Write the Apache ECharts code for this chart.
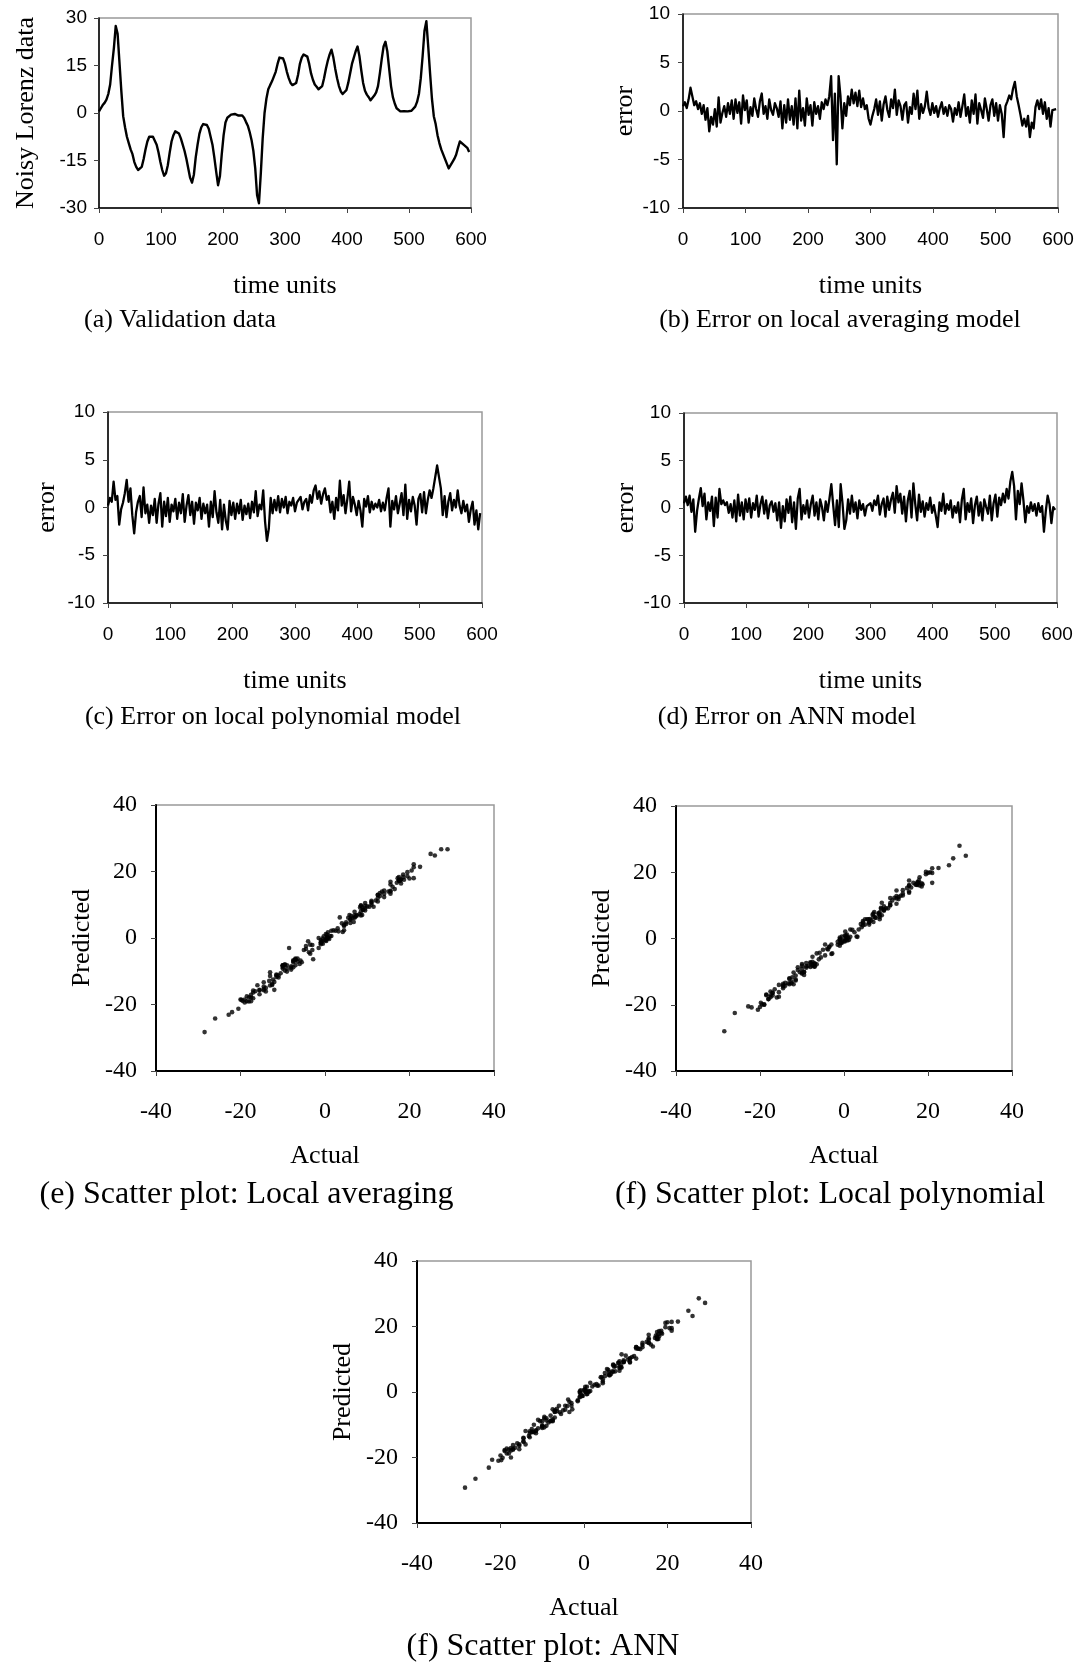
<!DOCTYPE html>
<html>
<head>
<meta charset="utf-8">
<script src="https://cdn.jsdelivr.net/npm/echarts@6/dist/echarts.min.js"></script>
<style>
html,body{margin:0;padding:0;background:#fff;}
#chart{width:1084px;height:1663px;}
</style>
</head>
<body>
<div id="chart"></div>
<script>
// Sample spacing (time units) of the read-off values
const timeStep = 3;

// (a) Noisy Lorenz validation data, read every 3 time units
const validation = [
  0.5, 1.5, 2.5, 3.2, 4.2, 6, 9, 15, 20.5, 27.5,
  25, 16, 7, -1, -4.5, -7.5, -9.5, -11.5, -13, -15.5,
  -17, -18, -18.5, -17, -14.5, -11.5, -9, -7.5, -7, -7.5,
  -8, -10, -12.5, -15.5, -18, -19.8, -19, -16.5, -12.5, -9,
  -7, -5.8, -5.5, -6.5, -8, -10, -12, -14.5, -17.5, -20.5,
  -22, -19.5, -14, -10, -6.5, -4.5, -3.5, -3, -3.8, -5,
  -7.5, -10, -14, -18.5, -22.8, -20, -13, -7, -3, -1.5,
  -1, -0.5, -1, -0.3, 0.2, -0.8, -0.5, -0.8, -1.5, -2.8,
  -4, -6, -8.5, -12, -17.5, -26, -28.5, -19, -8, 0,
  4.5, 7.5, 8.8, 10, 11.5, 13, 15.5, 17.5, 17.8, 17.2,
  15.5, 13, 11, 9.5, 8.8, 8.2, 9.5, 12, 15.5, 17.5,
  18.5, 18.7, 17.8, 15.5, 12.5, 10.5, 9, 8.3, 7.5, 7,
  8.5, 11, 14, 16.5, 18.5, 20, 17.5, 14, 11, 8.5,
  6.8, 6, 6.2, 7.2, 9.5, 12.5, 15.5, 17.5, 19.5, 21,
  18, 13.5, 9.5, 7, 5.8, 5, 4, 4.5, 5.5, 6.5,
  8.5, 12.5, 17, 21, 22.5, 19.5, 14, 8.5, 5, 3,
  1.5, 1, 0.5, 0.2, 0.6, 0.3, 0.5, 0.8, 0.7, 1.2,
  2, 3.5, 6, 11, 18, 26, 29, 21, 12.5, 4.5,
  -1, -3.5, -7, -9.5, -11.5, -13, -14.5, -16, -17.5, -17,
  -15.5, -14.5, -13.2, -11, -9, -9.5, -10, -10.5, -11, -12.3
];

// (b) Error on local averaging model
const errLocalAvg = [
  0.5, 0.9, 0.3, 1.2, 2.4, 1.5, 0.6, 1.0, 0.2, 0.8,
  -0.3, 0.6, -0.9, 0.3, -2.1, -0.6, -1.4, 0.2, -1.6, 1.4,
  -1.2, -0.2, 0.5, -0.6, 0.8, -0.3, 1.1, -0.8, 1.2, -0.2,
  0.9, -1.3, 1.6, 0.1, 1.1, -1.2, 0.4, -0.5, 1.3, 0.2,
  -0.6, 1.0, 1.8, -0.3, 0.5, -0.8, 1.2, 0.1, -0.4, 0.8,
  0.3, -0.6, 1.0, -1.8, 0.6, -1.2, 1.2, -0.9, 0.5, -1.4,
  1.3, -1.8, 2.1, -1.0, 0.3, -1.5, 1.3, -0.4, 0.6, -1.5,
  0.9, -0.3, 0.5, -0.8, 0.9, 0.2, 1.2, 0.6, 1.5, 3.6,
  -3.0, 1.8, -5.5, 3.6, 1.5, -1.8, 0.8, -0.5, 1.5, 0.6,
  2.2, 0.8, 1.9, 0.5, 2.1, 0.4, 1.3, 0.2, 0.6, -0.8,
  -1.4, -0.5, 0.2, 1.2, -0.4, 1.0, -1.0, 0.7, 1.5, 0.1,
  -0.6, 1.2, 0.3, 2.2, -0.4, 1.1, 0.5, -0.9, 0.6, 0.9,
  -1.2, 0.4, -0.3, 1.8, 0.2, 2.1, -0.8, 0.7, -0.2, 0.5,
  2.0, 0.3, -0.4, 0.8, -0.2, 0.5, -0.6, 0.3, 0.9, -0.3,
  0.4, -0.5, 0.6, 0.2, -1.1, 0.3, -0.4, 0.9, -0.6, 0.5,
  1.7, -0.5, 0.4, -1.2, 1.1, -0.3, 1.7, -1.3, 0.8, 0.1,
  -0.7, 1.3, 0.2, -1.0, 0.6, 1.2, -0.5, 0.8, -1.0, 0.6,
  -0.3, -2.7, 0.5, 1.0, 1.6, 1.2, 2.3, 3.0, 1.5, 0.6,
  -0.4, -1.5, -0.8, -1.6, -0.5, -2.7, -1.2, -1.8, 0.4, 1.1,
  0.2, 1.2, -0.3, 0.9, -0.8, 0.3, -1.6, 0.1, 0.3, 0.2
];

// (c) Error on local polynomial model
const errLocalPoly = [
  0.2, 1.0, 0.6, 2.7, 0.8, 1.2, -1.8, -0.2, 0.5, 1.5,
  2.9, 0.6, 2.0, -0.8, -2.7, -0.5, 0.6, 1.2, -1.0, 2.1,
  -0.6, 0.3, -1.6, 0.2, -0.8, 0.9, -1.6, 0.4, 1.5, -2.0,
  0.6, -0.9, 1.0, -1.5, 0.3, -0.4, 0.9, -1.2, 0.5, -0.6,
  1.4, -1.5, 0.2, 1.3, -0.8, 0.6, -1.7, 0.5, -0.3, 1.0,
  -1.2, 0.4, -0.6, 0.3, -2.0, 0.6, -1.0, 1.7, -0.5, -1.6,
  0.8, -2.3, 0.3, -1.4, -2.3, 0.7, -0.8, 0.5, -1.2, 0.4,
  -0.6, 0.8, -1.3, 0.2, -0.7, 0.4, -1.1, 0.6, -0.5, 1.7,
  -0.9, 0.3, -0.2, 1.8, -1.5, -3.5, -2.2, 1.0, -0.6, 0.8,
  -0.3, 1.2, -0.5, 0.9, 0.0, 1.1, -0.6, 0.6, 0.2, 1.0,
  -0.4, 0.5, 0.3, 1.1, -0.2, 0.6, 0.9, -0.3, 1.3, 0.5,
  1.8, 2.3, 0.9, 1.7, 0.4, 1.4, 2.0, 0.8, 1.2, -0.5,
  0.6, -1.2, 1.0, -0.3, 2.8, 0.2, 1.3, -0.6, 0.9, 2.7,
  -0.4, 1.1, 0.3, -0.8, 0.7, -0.3, -2.0, 0.9, 0.1, 1.2,
  -0.5, 0.6, -0.2, 0.4, 0.0, 0.8, -0.4, 0.5, -0.3, 1.0,
  2.0, -2.0, 0.7, -0.2, 1.2, -0.6, 0.4, 1.5, -0.8, 2.4,
  -1.2, 0.8, -0.4, 1.1, 0.2, -1.8, 0.9, 1.4, -0.5, 1.6,
  -0.6, 0.8, 1.8, 1.0, 2.0, 1.8, 4.4, 4.2, 2.0, -0.8,
  1.2, -1.0, 0.6, 1.5, -0.3, 0.8, 0.0, 1.8, 0.2, -0.6,
  0.7, -0.4, 0.3, -1.5, -0.2, 0.6, -1.8, -0.3, -2.3, -0.6
];

// (d) Error on ANN model
const errANN = [
  0.5, 1.2, 0.3, 1.3, -0.4, 0.9, -2.5, -0.3, 1.0, 2.1,
  0.2, 1.5, -1.2, 0.6, -0.3, 1.2, -1.9, 1.1, -1.0, 2.0,
  0.4, 0.8, 0.3, 0.6, -0.5, 0.4, -1.0, 0.8, -1.4, 1.4,
  -0.8, 0.6, -1.2, 0.9, -0.4, 1.0, -1.0, 0.5, -0.2, 1.3,
  -0.9, 0.4, 1.2, -0.6, 0.8, -1.1, 0.3, 0.7, -0.4, 0.5,
  -1.3, 0.6, -2.1, 0.2, -1.4, 0.9, -0.5, 1.2, -1.5, 0.6,
  -2.2, 1.0, 2.0, -1.2, 0.3, -0.6, 0.8, -1.0, 0.4, 1.3,
  -0.8, 0.6, -1.2, 0.9, 0.1, -1.3, 0.7, -0.4, 1.0, 2.5,
  0.3, -1.8, 0.8, -2.0, 2.5, 0.5, -2.2, -1.3, 0.9, -0.6,
  1.3, -0.4, 0.6, -1.1, 0.8, -0.2, 0.4, -0.8, 0.2, 0.0,
  0.5, -0.3, 0.8, 0.3, 1.3, -0.7, 0.4, 1.0, -0.9, 1.2,
  -0.2, 0.9, 1.6, -0.5, 2.3, 0.6, 1.5, -0.6, 1.2, -1.4,
  0.8, 1.8, -1.0, 2.6, 0.4, -1.3, 1.4, -0.4, 0.7, -0.9,
  0.5, -0.2, 1.1, -0.5, 0.3, -0.8, -2.0, 0.6, -0.3, 1.5,
  -0.6, 0.4, -0.2, 0.8, -1.0, 0.2, -0.5, 0.6, -1.5, 0.9,
  2.0, -1.2, 0.5, -0.4, 1.0, -1.6, 0.3, 1.2, -0.8, 0.6,
  -1.3, 0.9, 0.1, -0.6, 1.3, -1.3, 0.5, 1.4, -0.9, 1.1,
  0.3, 1.5, 0.6, 2.0, 1.0, 2.8, 3.8, 2.3, -1.2, 1.8,
  0.4, 2.6, 0.8, -1.5, 0.2, -0.5, 0.6, -0.3, 0.4, -0.8,
  0.5, -0.4, 0.2, -2.5, -0.3, 1.3, 0.4, -1.6, 0.1, -0.2
];

// (e) Predicted values, local averaging model (paired with validation as actual)
const predLocalAvg = [
  0.0, 0.6, 2.2, 2.0, 1.8, 4.5, 8.4, 14.0, 20.3, 26.7,
  25.3, 15.4, 7.9, -1.3, -2.4, -6.9, -8.1, -11.7, -11.4, -16.9,
  -15.8, -17.8, -19.0, -16.4, -15.3, -11.2, -10.1, -6.7, -8.2, -7.3,
  -8.9, -8.7, -14.1, -15.6, -19.1, -18.6, -19.4, -16.0, -13.8, -9.2,
  -6.4, -6.8, -7.3, -6.2, -8.5, -9.2, -13.2, -14.6, -17.1, -21.3,
  -22.3, -18.9, -15.0, -8.2, -7.1, -3.3, -4.7, -2.1, -4.3, -3.6,
  -8.8, -8.2, -16.1, -17.5, -23.1, -18.5, -14.3, -6.6, -3.6, 0.0,
  -1.9, -0.2, -1.5, 0.5, -0.7, -1.0, -1.7, -1.4, -3.0, -6.4,
  -1.0, -7.8, -3.0, -15.6, -19.0, -24.2, -28.3, -18.5, -9.5, -0.6,
  2.3, 6.7, 6.9, 9.5, 9.4, 12.6, 14.2, 17.3, 17.2, 18.0,
  16.9, 13.5, 10.8, 8.3, 9.2, 7.2, 10.5, 11.3, 14.0, 17.4,
  19.1, 17.5, 17.5, 13.3, 12.9, 9.4, 8.5, 9.2, 6.9, 6.1,
  9.7, 10.6, 14.3, 14.7, 18.3, 17.9, 18.3, 13.3, 11.2, 8.0,
  4.8, 5.7, 6.6, 6.4, 9.7, 12.0, 16.1, 17.2, 18.6, 21.3,
  17.6, 14.0, 8.9, 6.8, 6.9, 4.7, 4.4, 3.6, 6.1, 6.0,
  6.8, 13.0, 16.6, 22.2, 21.4, 19.8, 12.3, 9.8, 4.2, 2.9,
  2.2, -0.3, 0.3, 1.2, 0.0, -0.9, 1.0, 0.0, 1.7, 0.6,
  2.3, 6.2, 5.5, 10.0, 16.4, 24.8, 26.7, 18.0, 11.0, 3.9,
  -0.6, -2.0, -6.2, -7.9, -11.0, -10.3, -13.3, -14.2, -17.9, -18.1,
  -15.7, -15.7, -12.9, -11.9, -8.2, -9.8, -8.4, -10.6, -11.3, -12.5
];

// (f) Predicted values, local polynomial model
const predLocalPoly = [
  0.3, 0.5, 1.9, 0.5, 3.4, 4.8, 10.8, 15.2, 20.0, 28.0,
  22.1, 15.4, 5.0, -0.2, -1.8, -7.0, -10.1, -12.7, -12.0, -17.6,
  -16.4, -18.3, -16.9, -17.2, -13.7, -12.4, -7.4, -7.9, -8.5, -5.5,
  -8.6, -9.1, -13.5, -14.0, -18.3, -19.4, -19.9, -15.3, -13.0, -8.4,
  -8.4, -4.3, -5.7, -7.8, -7.2, -10.6, -10.3, -15.0, -17.2, -21.5,
  -20.8, -19.9, -13.4, -10.3, -4.5, -5.1, -2.5, -4.7, -3.3, -3.4,
  -8.3, -7.7, -14.3, -17.1, -20.5, -20.7, -12.2, -7.5, -1.8, -1.9,
  -0.4, -1.3, 0.3, -0.5, 0.9, -1.2, 0.6, -1.4, -1.0, -4.5,
  -3.1, -6.3, -8.3, -13.8, -16.0, -22.5, -28.0, -20.0, -7.4, -0.8,
  4.8, 6.3, 9.3, 9.1, 11.5, 11.9, 16.1, 16.9, 17.6, 16.2,
  15.9, 12.5, 10.7, 8.4, 9.0, 7.6, 8.6, 12.3, 14.2, 17.0,
  16.7, 16.4, 16.9, 13.8, 12.1, 9.1, 7.0, 7.5, 6.3, 7.5,
  7.9, 12.2, 13.0, 16.8, 15.7, 19.8, 16.2, 14.6, 10.1, 5.8,
  7.2, 4.9, 5.9, 8.0, 8.8, 12.8, 17.5, 16.6, 19.4, 19.8,
  18.5, 12.9, 9.7, 6.6, 5.8, 4.2, 4.4, 4.0, 5.8, 5.5,
  6.5, 14.5, 16.3, 21.2, 21.3, 20.1, 13.6, 7.0, 5.8, 0.6,
  2.7, 0.2, 0.9, -0.9, 0.4, 2.1, -0.4, -0.6, 1.2, -0.4,
  2.6, 2.7, 4.2, 10.0, 16.0, 24.2, 25.0, 16.8, 10.5, 5.3,
  -2.2, -2.5, -7.6, -11.0, -11.2, -13.8, -14.5, -17.8, -17.7, -16.4,
  -16.2, -14.1, -13.5, -9.5, -8.8, -10.1, -8.2, -10.2, -8.7, -11.7
];

// (f, bottom) Predicted values, ANN model
const predANN = [
  0.0, 0.3, 2.2, 1.9, 4.6, 5.1, 11.5, 15.3, 19.5, 28.6,
  24.8, 14.5, 8.2, -1.6, -4.2, -8.7, -7.6, -12.6, -12.0, -17.5,
  -17.4, -18.8, -18.8, -17.6, -14.0, -11.9, -8.0, -8.3, -5.6, -8.9,
  -7.2, -10.6, -11.3, -16.4, -17.6, -20.8, -18.0, -17.0, -12.3, -10.3,
  -6.1, -6.2, -6.7, -5.9, -8.8, -8.9, -12.3, -15.2, -17.1, -21.0,
  -20.7, -20.1, -11.9, -10.2, -5.1, -5.4, -3.0, -4.2, -2.3, -5.6,
  -5.3, -11.0, -16.0, -17.3, -23.1, -19.4, -13.8, -6.0, -3.4, -2.8,
  -0.2, -1.1, 0.2, -1.2, 0.1, 0.5, -1.2, -0.4, -2.5, -5.3,
  -4.3, -4.2, -9.3, -10.0, -20.0, -26.5, -29.2, -17.7, -8.9, 0.6,
  3.2, 7.9, 8.2, 11.1, 10.7, 13.2, 15.1, 18.3, 17.6, 17.2,
  15.0, 13.3, 10.2, 9.2, 7.5, 8.9, 9.1, 11.0, 16.4, 16.3,
  18.7, 17.8, 16.2, 16.0, 10.2, 9.9, 7.5, 8.9, 6.3, 8.4,
  7.7, 9.2, 15.0, 13.9, 18.1, 21.3, 16.1, 14.4, 10.3, 9.4,
  6.3, 6.2, 5.1, 7.7, 9.2, 13.3, 17.5, 16.9, 19.8, 19.5,
  18.6, 13.1, 9.7, 6.2, 6.8, 4.8, 4.5, 3.9, 7.0, 5.6,
  6.5, 13.7, 16.5, 21.4, 21.5, 21.1, 13.7, 7.3, 5.8, 2.4,
  2.8, 0.1, 0.4, 0.8, -0.7, 1.6, 0.0, -0.6, 1.6, 0.1,
  1.7, 2.0, 5.4, 9.0, 17.0, 23.2, 27.2, 18.7, 13.7, 2.7,
  -1.4, -6.1, -7.8, -8.0, -11.7, -12.5, -15.1, -15.7, -17.9, -16.2,
  -16.0, -14.1, -13.4, -8.5, -8.7, -10.8, -10.4, -8.9, -11.1, -12.1
];

const timeTicks = { min: 0, max: 600, interval: 100 };
const lorenzTicks = { min: -30, max: 30, interval: 15 };
const errorTicks = { min: -10, max: 10, interval: 5 };
const scatterTicks = { min: -40, max: 40, interval: 20 };

const captions = [
  '(a) Validation data',
  '(b) Error on local averaging model',
  '(c) Error on local polynomial model',
  '(d) Error on ANN model',
  '(e) Scatter plot: Local averaging',
  '(f) Scatter plot: Local polynomial',
  '(f) Scatter plot: ANN'
];

const SERIF = "'Liberation Serif','Times New Roman',serif";
const SANS = "'Liberation Sans',Arial,sans-serif";

const time = validation.map((_, i) => i * timeStep);

const grids = [
  { left: 99, top: 18, width: 372, height: 190 },
  { left: 683, top: 14, width: 375, height: 194 },
  { left: 108, top: 412, width: 374, height: 191 },
  { left: 684, top: 413, width: 373, height: 190 },
  { left: 156, top: 805, width: 338, height: 266 },
  { left: 676, top: 806, width: 336, height: 265 },
  { left: 417, top: 1261, width: 334, height: 262 }
].map(g => Object.assign({ show: true, borderColor: '#999', borderWidth: 1.5, backgroundColor: 'transparent', containLabel: false, outerBoundsMode: 'none' }, g));

function baseAxis(gi, ticks, o) {
  return Object.assign({
    type: 'value', gridIndex: gi,
    min: ticks.min, max: ticks.max, interval: ticks.interval,
    nameLocation: 'middle',
    axisLine: { show: true, onZero: false, lineStyle: { color: '#000', width: o.lineW } },
    axisTick: { show: true, inside: false, length: 5, lineStyle: { color: '#444', width: 1 } },
    splitLine: { show: false },
    axisLabel: { margin: o.margin, fontFamily: o.labelFont, fontSize: o.labelSize, color: '#000' },
    nameGap: o.nameGap,
    nameTextStyle: { fontFamily: SERIF, fontSize: 26, color: '#000' }
  }, o.extra || {});
}

const xAxes = [];
const yAxes = [];
// time panels
[0, 1, 2, 3].forEach(gi => {
  xAxes.push(baseAxis(gi, timeTicks, { lineW: 1.5, margin: 22, labelFont: SANS, labelSize: 19, nameGap: 65, extra: { name: 'time units' } }));
});
yAxes.push(baseAxis(0, lorenzTicks, { lineW: 1.5, margin: 12, labelFont: SANS, labelSize: 19, nameGap: 60, extra: { name: 'Noisy Lorenz data' } }));
yAxes.push(baseAxis(1, errorTicks, { lineW: 1.5, margin: 13, labelFont: SANS, labelSize: 19, nameGap: 44, extra: { name: 'error' } }));
yAxes.push(baseAxis(2, errorTicks, { lineW: 1.5, margin: 13, labelFont: SANS, labelSize: 19, nameGap: 48, extra: { name: 'error' } }));
yAxes.push(baseAxis(3, errorTicks, { lineW: 1.5, margin: 13, labelFont: SANS, labelSize: 19, nameGap: 44, extra: { name: 'error' } }));
// scatter panels
[4, 5, 6].forEach(gi => {
  xAxes.push(baseAxis(gi, scatterTicks, { lineW: 2, margin: 29, labelFont: SERIF, labelSize: 24, nameGap: 72, extra: { name: 'Actual' } }));
  yAxes.push(baseAxis(gi, scatterTicks, { lineW: 2, margin: 19, labelFont: SERIF, labelSize: 24, nameGap: 61, extra: { name: 'Predicted' } }));
});

function lineSeries(idx, values, w) {
  return {
    type: 'line', xAxisIndex: idx, yAxisIndex: idx,
    data: time.map((t, i) => [t, values[i]]),
    showSymbol: false, symbol: 'none',
    lineStyle: { color: '#000', width: w, join: 'round' },
    silent: true, animation: false
  };
}
function scatterSeries(idx, predicted) {
  return {
    type: 'scatter', xAxisIndex: idx, yAxisIndex: idx,
    data: validation.map((a, i) => [a, predicted[i]]),
    symbol: 'circle', symbolSize: 4.6,
    itemStyle: { color: '#000' },
    silent: true, animation: false
  };
}

const captionPos = [
  [180, 320, 26], [840, 320, 26], [273, 717, 26], [787, 717, 26],
  [246.5, 1195, 32], [830, 1195, 32], [543, 1647, 32]
];

const option = {
  backgroundColor: '#fff',
  animation: false,
  grid: grids,
  xAxis: xAxes,
  yAxis: yAxes,
  series: [
    lineSeries(0, validation, 2.4),
    lineSeries(1, errLocalAvg, 2.3),
    lineSeries(2, errLocalPoly, 2.3),
    lineSeries(3, errANN, 2.3),
    scatterSeries(4, predLocalAvg),
    scatterSeries(5, predLocalPoly),
    scatterSeries(6, predANN)
  ],
  graphic: captions.map((c, i) => ({
    type: 'text',
    x: captionPos[i][0], y: captionPos[i][1],
    style: {
      text: c, fill: '#000',
      fontFamily: SERIF, fontSize: captionPos[i][2],
      align: 'center', verticalAlign: 'middle',
      textAlign: 'center', textVerticalAlign: 'middle'
    }
  }))
};

const chart = echarts.init(document.getElementById('chart'), null, { renderer: 'canvas' });
chart.setOption(option);
</script>
</body>
</html>
